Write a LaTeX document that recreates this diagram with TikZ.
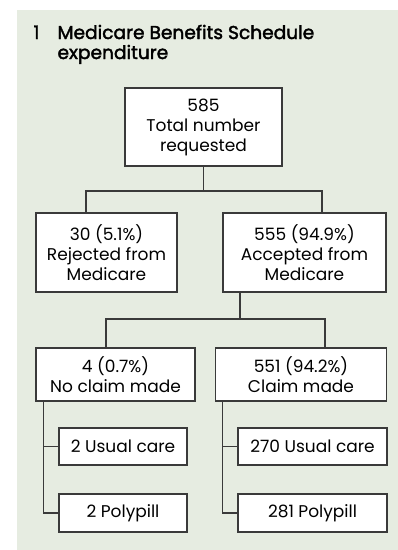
\documentclass[tikz,border=0pt]{standalone}
\usepackage{fontspec}
\setmainfont{Poppins}[BoldFont=Poppins,BoldFeatures={FakeBold=2}]
\usepackage{xcolor}
\usetikzlibrary{positioning,calc}
\definecolor{panelbg}{HTML}{E6ECE1}
\definecolor{boxline}{HTML}{3A3A3A}
\tikzset{box/.style={draw=boxline,fill=white,line width=1.1pt,align=center,
           inner sep=0pt,font=\fontsize{17}{20}\selectfont},
         link/.style={draw=boxline,line width=1.1pt},
         heading/.style={anchor=base west,font=\fontsize{18.6}{20}\selectfont\bfseries}
}

\begin{document}
\begin{tikzpicture}[x=1pt,y=-1pt]

% panel and margins
\useasboundingbox (0,0) rectangle (398,550);
\fill[panelbg] (17,10) rectangle (398,550);
\node[heading] (title) at (30,39) {1};
\node[heading] (title1) at (54,39) {Medicare Benefits Schedule};
\node[heading] (title2) at (54,59) {expenditure};

\node[box,minimum width=157pt,minimum height=78pt] (total) at (203.5,127) {585\\Total number\\requested};
\node[box,minimum width=141pt,minimum height=79pt] (rejected) at (106.5,252.5) {30 (5.1\%)\\Rejected from\\Medicare};
\node[box,minimum width=163pt,minimum height=79pt] (accepted) at (304.5,252.5) {555 (94.9\%)\\Accepted from\\Medicare};
\node[box,minimum width=159pt,minimum height=53pt] (noclaim) at (115.5,374.5) {4 (0.7\%)\\No claim made};
\node[box,minimum width=171pt,minimum height=53pt] (claim) at (301,374.5) {551 (94.2\%)\\Claim made};
\node[box,minimum width=128pt,minimum height=37pt] (usual1) at (123,446.5) {2 Usual care};
\node[box,minimum width=128pt,minimum height=38pt] (poly1) at (123,513) {2 Polypill};
\node[box,minimum width=149pt,minimum height=37pt] (usual2) at (312.5,446.5) {270 Usual care};
\node[box,minimum width=149pt,minimum height=38pt] (poly2) at (312.5,513) {281 Polypill};

% first split
\coordinate (split1) at (total.south |- 0,191);
\draw[link] (total.south) -- (split1);
\draw[link] ([xshift=-20.5pt]rejected.north) |- (split1) -| ([xshift=17.5pt]accepted.north);

% second split
\coordinate (split2) at ([xshift=-64.5pt]accepted.south |- 0,319);
\draw[link] ([xshift=-64.5pt]accepted.south) -- (split2);
\draw[link] ([xshift=-9.5pt]noclaim.north) |- (split2) -| ([xshift=24pt]claim.north);

% branches
\draw[link] ([xshift=8pt]noclaim.south west) |- (poly1.west);
\draw[link] (usual1.west) -- (usual1.west -| {$(noclaim.south west)+(8pt,0)$});
\draw[link] ([xshift=7.7pt]claim.south west) |- (poly2.west);
\draw[link] (usual2.west) -- (usual2.west -| {$(claim.south west)+(7.7pt,0)$});

\end{tikzpicture}
\end{document}
